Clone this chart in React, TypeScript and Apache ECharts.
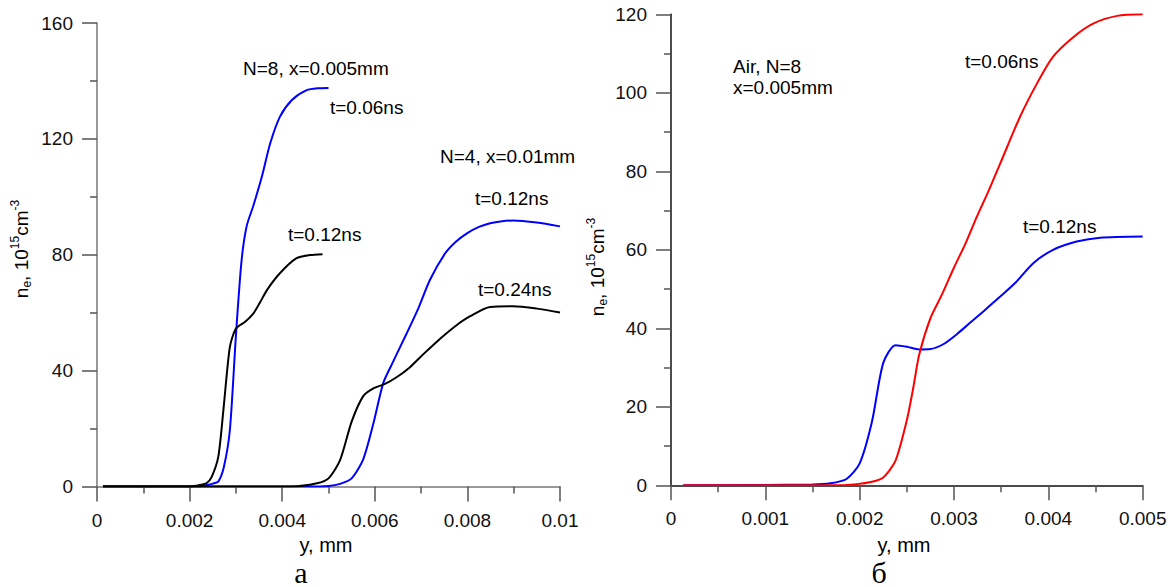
import React, { useEffect, useRef } from "react";
import * as echarts from "echarts";

// ---- Panel "а" (left) ----
const n8t006: [number, number][] = [
  [0.00013, 0], [0.0022, 0], [0.00237, 0.5], [0.0025, 1.0], [0.00262, 1.7], [0.00274, 6.7],
  [0.00287, 19.5], [0.003, 52], [0.00312, 77.6], [0.00323, 89.7], [0.00338, 97.1],
  [0.00356, 106.9], [0.00374, 118.4], [0.00395, 127.6], [0.00421, 133.4], [0.00453, 136.8],
  [0.0048, 137.5], [0.005, 137.6],
];
const n8t012: [number, number][] = [
  [0.00013, 0], [0.002, 0], [0.00222, 0.5], [0.00237, 1.2], [0.00248, 3.4], [0.00262, 10.3],
  [0.00273, 26.4], [0.00287, 48.2], [0.003, 54.5], [0.0032, 56.9], [0.00338, 59.8],
  [0.00352, 63.5], [0.00367, 67.8], [0.00395, 73.6], [0.00431, 78.8], [0.0046, 79.9],
  [0.00487, 80.2],
];
const n4t012: [number, number][] = [
  [0.00013, 0], [0.0045, 0], [0.005, 0.2], [0.00525, 0.9], [0.0055, 2.8], [0.00575, 9.4],
  [0.00597, 21.8], [0.00618, 35.6], [0.00636, 41.9], [0.00669, 52.9], [0.00694, 61.5],
  [0.00719, 71.3], [0.00752, 80.5], [0.00775, 84.5], [0.00799, 87.4], [0.00825, 89.6],
  [0.00849, 90.9], [0.00875, 91.6], [0.00899, 91.8], [0.0095, 91.1], [0.01, 89.8],
];
const n4t024: [number, number][] = [
  [0.00013, 0], [0.0042, 0], [0.00475, 1.1], [0.005, 2.8], [0.00525, 9.1], [0.0055, 22.4],
  [0.00575, 31.2], [0.00597, 33.9], [0.00622, 35.4], [0.00647, 37.7], [0.00676, 41.2],
  [0.00705, 45.7], [0.00734, 50.0], [0.00755, 52.9], [0.0078, 56.1], [0.00806, 58.8],
  [0.00849, 62.0], [0.00899, 62.2], [0.0095, 61.4], [0.01, 60.1],
];

// ---- Panel "б" (right) ----
const airT006: [number, number][] = [
  [0.00013, 0], [0.0017, 0], [0.00197, 0.3], [0.00213, 0.9], [0.00225, 2.0], [0.00238, 6.3],
  [0.0025, 16.6], [0.00257, 25.1], [0.00263, 33.2], [0.00275, 42.6], [0.00287, 48.5],
  [0.003, 55.5], [0.00312, 61.5], [0.00324, 68.3], [0.00337, 75.2], [0.00349, 82.0],
  [0.0037, 93.9], [0.00388, 102.4], [0.00405, 109.2], [0.00427, 114.3], [0.00448, 117.7],
  [0.00473, 119.6], [0.005, 120.0],
];
const airT012: [number, number][] = [
  [0.00013, 0], [0.0015, 0.2], [0.00169, 0.5], [0.00186, 1.6], [0.002, 5.6], [0.00213, 16.2],
  [0.00225, 31.2], [0.00238, 35.7], [0.0025, 35.3], [0.00263, 34.6], [0.00275, 34.7],
  [0.00289, 36.0], [0.00303, 38.5], [0.00317, 41.4], [0.00332, 44.5], [0.00349, 48.1],
  [0.00365, 51.6], [0.00384, 56.6], [0.00405, 60.0], [0.0043, 62.1], [0.00455, 63.1],
  [0.005, 63.4],
];

const leftAnnotations = ["N=8, x=0.005mm", "t=0.06ns", "N=4, x=0.01mm", "t=0.12ns", "t=0.12ns", "t=0.24ns"];
const rightAnnotations = ["Air, N=8", "x=0.005mm", "t=0.06ns", "t=0.12ns"];
const xName = "y, mm";
const panelNames = ["а", "б"];

const SANS = "'Liberation Sans', Arial, sans-serif";
const SERIF = "'Liberation Serif', 'Times New Roman', serif";

function txt(text: string, x: number, y: number, size = 19, align = "left", family = SANS) {
  return {
    type: "text",
    x,
    y,
    silent: true,
    style: {
      text,
      fill: "#000",
      font: `${size}px ${family}`,
      align,
      verticalAlign: "middle",
    },
  };
}

function yName(x: number, y: number) {
  const base = { fill: "#000", fontFamily: SANS };
  return {
    type: "text",
    x,
    y,
    rotation: Math.PI / 2,
    silent: true,
    style: {
      text: "{n|n}{s|e}{n|, 10}{p|15}{n|cm}{p|-3}",
      align: "center",
      verticalAlign: "middle",
      rich: {
        n: { ...base, fontSize: 19, lineHeight: 24 },
        s: { ...base, fontSize: 12, lineHeight: 12, verticalAlign: "bottom" },
        p: { ...base, fontSize: 12, lineHeight: 12, verticalAlign: "top" },
      },
    },
  };
}

function axisCommon(lineColor: string) {
  return {
    axisLine: { show: true, onZero: false, lineStyle: { color: lineColor, width: 1.5 } },
    axisTick: { show: true, length: 15, lineStyle: { color: "#555", width: 1.5 } },
    minorTick: { show: true, splitNumber: 2, length: 7, lineStyle: { color: "#555", width: 1.5 } },
    splitLine: { show: false },
    minorSplitLine: { show: false },
    axisLabel: { color: "#111", fontSize: 19, fontFamily: SANS, margin: 24 },
  };
}

function line(data: [number, number][], color: string, idx: number) {
  return {
    type: "line",
    xAxisIndex: idx,
    yAxisIndex: idx,
    data,
    showSymbol: false,
    symbol: "none",
    smooth: 0.25,
    lineStyle: { color, width: 2 },
    z: 3,
  };
}

export default function App() {
  const ref = useRef<HTMLDivElement>(null);
  useEffect(() => {
    const chart = echarts.init(ref.current!, null, { renderer: "svg" });
    chart.setOption({
      animation: false,
      backgroundColor: "#fff",
      grid: [
        { left: 97, top: 23, width: 463, height: 463.5 },
        { left: 671, top: 14.3, width: 471.7, height: 471 },
      ],
      xAxis: [
        { type: "value", gridIndex: 0, min: 0, max: 0.01, interval: 0.002, ...axisCommon("#777") },
        { type: "value", gridIndex: 1, min: 0, max: 0.005, interval: 0.001, ...axisCommon("#111") },
      ],
      yAxis: [
        { type: "value", gridIndex: 0, min: 0, max: 160, interval: 40, ...axisCommon("#777") },
        { type: "value", gridIndex: 1, min: 0, max: 120, interval: 20, ...axisCommon("#111") },
      ],
      series: [
        line(n8t006, "#0000ff", 0),
        line(n8t012, "#000000", 0),
        line(n4t012, "#0000ff", 0),
        line(n4t024, "#000000", 0),
        line(airT012, "#0000ff", 1),
        line(airT006, "#ff0000", 1),
      ],
      graphic: [
        txt(leftAnnotations[0], 243, 68),
        txt(leftAnnotations[1], 330, 107),
        txt(leftAnnotations[2], 440, 156),
        txt(leftAnnotations[3], 475, 198),
        txt(leftAnnotations[4], 288, 234),
        txt(leftAnnotations[5], 478, 289),
        txt(rightAnnotations[0], 733, 66),
        txt(rightAnnotations[1], 733, 87),
        txt(rightAnnotations[2], 965, 61),
        txt(rightAnnotations[3], 1023, 226),
        txt(xName, 326, 545, 20, "center"),
        txt(xName, 904, 545, 20, "center"),
        txt(panelNames[0], 301, 572, 30, "center", SERIF),
        txt(panelNames[1], 879, 572, 30, "center", SERIF),
        yName(21, 249),
        yName(597, 267),
      ],
    });
    return () => chart.dispose();
  }, []);
  return (
    <div
      ref={ref}
      style={{ position: "fixed", left: 0, top: 0, width: 1173, height: 587, background: "#fff" }}
    />
  );
}
